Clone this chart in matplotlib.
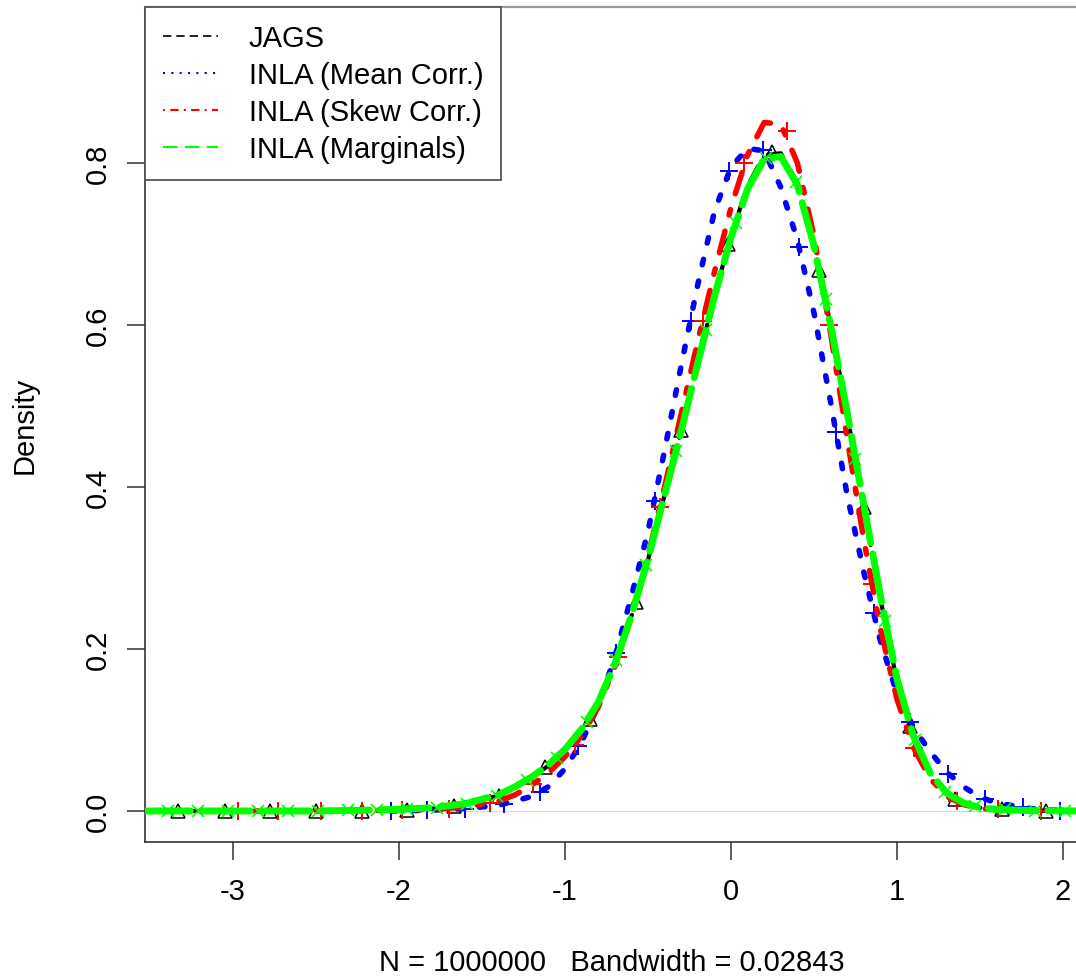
import matplotlib
matplotlib.use('Agg')
import matplotlib.pyplot as plt
from matplotlib.lines import Line2D

plt.rcParams['font.family'] = ['Liberation Sans', 'DejaVu Sans']

# density curves
jags_x = [-3.5, -3.0, -2.5, -2.2, -2.0, -1.8, -1.6, -1.4, -1.3, -1.2, -1.1, -1.0,
          -0.9, -0.8, -0.7, -0.6, -0.5, -0.4, -0.3, -0.2, -0.1, 0.0, 0.1, 0.2,
          0.3, 0.4, 0.5, 0.6, 0.7, 0.8, 0.9, 1.0, 1.1, 1.2, 1.3, 1.4, 1.5, 1.6,
          1.8, 2.1]
jags_y = [0, 0, 0, 0.0005, 0.001, 0.003, 0.008, 0.019, 0.029, 0.041, 0.056, 0.075,
          0.100, 0.133, 0.180, 0.240, 0.310, 0.390, 0.470, 0.553, 0.636, 0.710, 0.772, 0.810,
          0.812, 0.776, 0.700, 0.600, 0.490, 0.375, 0.262, 0.160, 0.090, 0.046, 0.021, 0.009, 0.004, 0.002,
          0.0005, 0]

mean_x = [-2.05, -1.8, -1.6, -1.4, -1.2, -1.1, -1.0, -0.9, -0.8, -0.7, -0.6, -0.5,
          -0.4, -0.3, -0.2, -0.1, 0.0, 0.1, 0.2, 0.3, 0.4, 0.5, 0.6, 0.7, 0.8,
          0.9, 1.0, 1.1, 1.2, 1.3, 1.4, 1.5, 1.6, 1.8, 2.05]
mean_y = [0, 0.001, 0.003, 0.007, 0.018, 0.030, 0.052, 0.085, 0.130, 0.190, 0.265, 0.345,
          0.445, 0.550, 0.650, 0.740, 0.795, 0.818, 0.815, 0.770, 0.705, 0.615, 0.505, 0.390, 0.295,
          0.210, 0.145, 0.103, 0.073, 0.048, 0.030, 0.017, 0.010, 0.003, 0]

skew_x = [-3.0, -2.5, -2.0, -1.8, -1.6, -1.4, -1.3, -1.2, -1.1, -1.0, -0.9, -0.8,
          -0.7, -0.6, -0.5, -0.4, -0.3, -0.2, -0.1, 0.0, 0.1, 0.2, 0.3, 0.4, 0.5,
          0.6, 0.7, 0.8, 0.9, 1.0, 1.1, 1.2, 1.3, 1.4, 1.5, 1.7, 2.0]
skew_y = [0, 0, 0.001, 0.002, 0.005, 0.012, 0.020, 0.032, 0.047, 0.067, 0.093, 0.128,
          0.178, 0.240, 0.315, 0.400, 0.490, 0.580, 0.665, 0.745, 0.810, 0.850, 0.848, 0.800, 0.710,
          0.590, 0.460, 0.335, 0.225, 0.138, 0.078, 0.040, 0.018, 0.008, 0.003, 0.001, 0]

marg_x = [-3.55, -3.0, -2.5, -2.2, -2.0, -1.8, -1.6, -1.4, -1.3, -1.2, -1.1, -1.0,
          -0.9, -0.8, -0.7, -0.6, -0.5, -0.4, -0.3, -0.2, -0.1, 0.0, 0.1, 0.2,
          0.3, 0.4, 0.5, 0.6, 0.7, 0.8, 0.9, 1.0, 1.1, 1.2, 1.3, 1.4, 1.5, 1.6,
          1.8, 2.1]
marg_y = [0, 0, 0, 0.001, 0.002, 0.004, 0.009, 0.020, 0.030, 0.042, 0.057, 0.076,
          0.101, 0.134, 0.181, 0.241, 0.311, 0.390, 0.469, 0.553, 0.635, 0.708, 0.768, 0.805,
          0.808, 0.773, 0.698, 0.600, 0.492, 0.378, 0.266, 0.163, 0.092, 0.047, 0.022, 0.010, 0.004, 0.002,
          0.0005, 0]

# point symbols along each curve
jags_px = [-3.33, -3.05, -2.78, -2.50, -2.22, -1.95, -1.67, -1.40, -1.12, -0.85,
           -0.57, -0.30, -0.02, 0.25, 0.53, 0.80, 1.08, 1.35, 1.63, 1.90]
jags_py = [0, 0, 0, 0, 0, 0.001, 0.006, 0.019, 0.054, 0.113,
           0.258, 0.470, 0.700, 0.814, 0.668, 0.375, 0.105, 0.015, 0.002, 0]

mean_px = [-2.05, -1.83, -1.60, -1.37, -1.15, -0.92, -0.69, -0.46, -0.24, -0.01,
           0.19, 0.41, 0.63, 0.86, 1.08, 1.31, 1.53, 1.76, 1.98]
mean_py = [0, 0.001, 0.003, 0.008, 0.024, 0.080, 0.195, 0.383, 0.605, 0.790,
           0.816, 0.696, 0.468, 0.245, 0.110, 0.046, 0.015, 0.005, 0]

skew_px = [-2.97, -2.73, -2.47, -2.22, -1.98, -1.70, -1.45, -1.19, -0.94, -0.68,
           -0.43, -0.17, 0.08, 0.34, 0.59, 0.85, 1.10, 1.36, 1.61, 1.87]
skew_py = [0, 0, 0, 0, 0.001, 0.003, 0.010, 0.033, 0.082, 0.190,
           0.375, 0.605, 0.800, 0.840, 0.600, 0.280, 0.078, 0.012, 0.002, 0]

marg_px = [-3.39, -3.21, -3.03, -2.85, -2.67, -2.49, -2.31, -2.13, -1.95, -1.77,
           -1.59, -1.41, -1.23, -1.05, -0.87, -0.69, -0.51, -0.33, -0.15, 0.03,
           0.21, 0.39, 0.57, 0.75, 0.93, 1.11, 1.29, 1.47, 1.65, 1.83, 2.01]
marg_py = [0, 0, 0, 0, 0, 0, 0.001, 0.001, 0.002, 0.004,
           0.009, 0.019, 0.038, 0.066, 0.110, 0.187, 0.304, 0.445, 0.594, 0.726,
           0.806, 0.777, 0.632, 0.435, 0.235, 0.088, 0.024, 0.006, 0.002, 0.0005, 0]

legend_labels = ['JAGS', 'INLA (Mean Corr.)', 'INLA (Skew Corr.)', 'INLA (Marginals)']
xticks = [-3, -2, -1, 0, 1, 2]
yticks = [0.0, 0.2, 0.4, 0.6, 0.8]

BLUE = '#0000ff'
RED = '#ff0000'
GREEN = '#00ff00'
FS = 21

W, H = 1076, 979
fig = plt.figure(figsize=(W / 100, H / 100), dpi=100)
# plot region ends just past the right edge of the picture, as in the reference
ax = fig.add_axes([145 / W, 1 - 843 / H, (1079 - 145) / W, (843 - 8) / H])
ax.set_xlim(-3.53, -3.53 + (1079 - 145) / 166)
ax.set_ylim(-0.0383, 0.9926)

ax.axhline(0, color='#c8c8c8', lw=0.5, zorder=1)

ax.plot(jags_x, jags_y, color='black', lw=3, dashes=(4, 4),
        dash_capstyle='round', zorder=2)
ax.plot(jags_px, jags_py, ls='none', marker='^', ms=10, mfc='none',
        mec='black', mew=1.1, zorder=2.1)

ax.plot(mean_x, mean_y, color=BLUE, lw=4, dashes=(1, 3),
        dash_capstyle='round', zorder=3)
ax.plot(mean_px, mean_py, ls='none', marker='+', ms=13, mec=BLUE,
        mew=1.4, zorder=3.1)

ax.plot(skew_x, skew_y, color=RED, lw=4, dashes=(1, 3, 4, 3),
        dash_capstyle='round', zorder=4)
ax.plot(skew_px, skew_py, ls='none', marker='+', ms=13, mec=RED,
        mew=1.4, zorder=4.1)

ax.plot(marg_x, marg_y, color=GREEN, lw=5, dashes=(7, 1.6),
        dash_capstyle='round', zorder=5)
ax.plot(marg_px, marg_py, ls='none', marker='x', ms=8.5, mec=GREEN,
        mew=1.2, zorder=5.1)

ax.set_xticks(xticks)
ax.set_xticklabels([str(t) for t in xticks])
ax.set_yticks(yticks)
ax.set_yticklabels([f'{t:.1f}' for t in yticks], rotation=90, va='center')
ax.tick_params(axis='both', labelsize=FS, length=13, width=1.1, color='#333333')
ax.tick_params(axis='x', pad=12)
ax.tick_params(axis='y', pad=11)

ax.spines['top'].set_color('#9a9a9a')
ax.spines['top'].set_linewidth(1.6)
ax.spines['right'].set_visible(False)
for side in ('left', 'bottom'):
    ax.spines[side].set_color('#333333')
    ax.spines[side].set_linewidth(1.2)

ax.set_xlabel('N = 1000000   Bandwidth = 0.02843', fontsize=FS)
ax.xaxis.set_label_coords(0.5, -0.127)
fig.text(25 / W, 1 - 425 / H, 'Density', rotation=90, ha='center', va='center',
         fontsize=FS)

handles = [
    Line2D([], [], color='black', lw=1.2, dashes=(5, 3)),
    Line2D([], [], color=BLUE, lw=1.5, dashes=(1, 3)),
    Line2D([], [], color=RED, lw=1.5, dashes=(1, 2.5, 4, 2.5)),
    Line2D([], [], color=GREEN, lw=1.5, dashes=(7, 3.5)),
]
leg = ax.legend(handles, legend_labels, loc='upper left', bbox_to_anchor=(0, 1),
                borderaxespad=0, fontsize=FS, handlelength=1.9, handletextpad=1.05,
                borderpad=0.6, labelspacing=0.3, fancybox=False, framealpha=1)
leg.get_frame().set_edgecolor('#555555')
leg.get_frame().set_linewidth(1.3)

fig.savefig('out.png', dpi=100)
